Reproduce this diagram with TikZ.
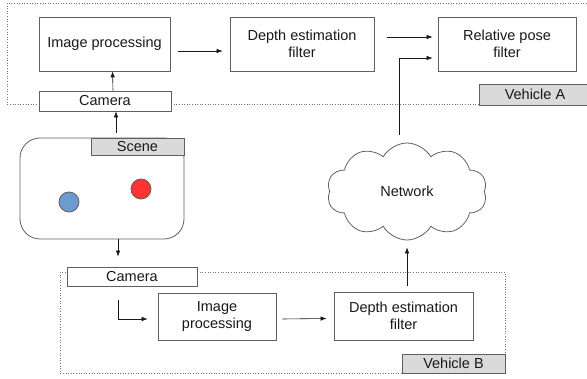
\documentclass[tikz,border=0pt]{standalone}
\usepackage{fontspec}
\setmainfont{Liberation Sans}
\usetikzlibrary{arrows.meta,shapes.symbols,calc}
\definecolor{boxline}{HTML}{606060}
\definecolor{lblfill}{HTML}{DADADA}
\definecolor{bluedot}{HTML}{6C9BD2}
\definecolor{reddot}{HTML}{FF3333}
\begin{document}
\begin{tikzpicture}[x=1pt,y=-1pt,
  every node/.style={font=\fontsize{14.5}{17}\selectfont, text=black!90, inner sep=0pt},
  blk/.style={draw=boxline, line width=0.8pt, fill=white, align=center},
  lbl/.style={draw=boxline, line width=0.8pt, fill=lblfill, align=center},
  grp/.style={draw=black!55, dotted, line width=0.6pt},
  arr/.style={-{Latex[length=6pt,width=4.5pt]}, line width=0.6pt, black!90}]
\useasboundingbox (0,0) rectangle (587,379);
% Vehicle A group
\draw[grp] (7,3) rectangle (591,104);
\node[lbl, minimum width=112pt, minimum height=21pt] (vehA) at (535,94.5) {Vehicle A};
\node[blk, minimum width=131pt, minimum height=54pt] (imgA) at (104.5,44) {Image processing};
\node[blk, minimum width=132pt, minimum height=20pt] (camA) at (105,101) {Camera};
\node[blk, minimum width=144pt, minimum height=54pt] (depthA) at (302,44) {Depth estimation\\filter};
\node[blk, minimum width=138pt, minimum height=54pt] (relpose) at (507,44) {Relative pose\\filter};
% Scene
\node[blk, rounded corners=20pt, minimum width=164pt, minimum height=101pt] (scene) at (102,188.5) {};
\node[lbl, minimum width=93pt, minimum height=17pt] (sceneL) at (137.5,146.5) {Scene};
\draw[boxline, fill=bluedot, line width=0.8pt] (69,202) circle (10pt);
\draw[boxline, fill=reddot, line width=0.8pt] (141,189) circle (10pt);
% Network
\node[draw=boxline, line width=0.8pt, cloud, cloud puffs=10, cloud puff arc=120, aspect=1.65,
  minimum width=160pt, minimum height=97pt] (cloud) at (407,191.5) {};
\node at (407,191) (netT) {Network};
% Vehicle B group
\draw[grp] (60,272) rectangle (505,373);
\node[lbl, minimum width=103pt, minimum height=19pt] (vehB) at (453.5,363.5) {Vehicle B};
\node[blk, minimum width=130pt, minimum height=19pt] (camB) at (132,276.5) {Camera};
\node[blk, minimum width=118pt, minimum height=47pt] (imgB) at (217,316.5) {Image\\processing};
\node[blk, minimum width=139pt, minimum height=48pt] (depthB) at (403.5,316) {Depth estimation\\filter};
% Arrows
\draw[arr] ([xshift=8pt]camA.north) -- ([xshift=8pt]imgA.south);
\draw[arr] ([xshift=14pt,yshift=5pt]scene.north) -- ([xshift=11pt]camA.south);
\draw[arr] ([xshift=8pt,yshift=-7pt]imgA.east) -- ([xshift=-7pt,yshift=-7pt]depthA.west);
\draw[arr] ([xshift=13pt,yshift=7pt]depthA.east) -- ([xshift=-5pt,yshift=7pt]relpose.west);
\draw[arr] ([xshift=-8pt,yshift=8pt]cloud.north) |- ([xshift=-5pt,yshift=-14pt]relpose.west);
\draw[arr] ([xshift=16pt]scene.south) -- ([xshift=-14pt,yshift=10pt]camB.north);
\draw[arr] ([xshift=-14pt,yshift=-14pt]camB.south) |- ([xshift=-10pt,yshift=-2.5pt]imgB.west);
\draw[arr] ([xshift=6pt,yshift=-2.5pt]imgB.east) -- ([xshift=-7pt,yshift=-2.5pt]depthB.west);
\draw[arr] ([xshift=3.5pt,yshift=6pt]depthB.north) -- ([yshift=-7pt]cloud.south);
\end{tikzpicture}
\end{document}
